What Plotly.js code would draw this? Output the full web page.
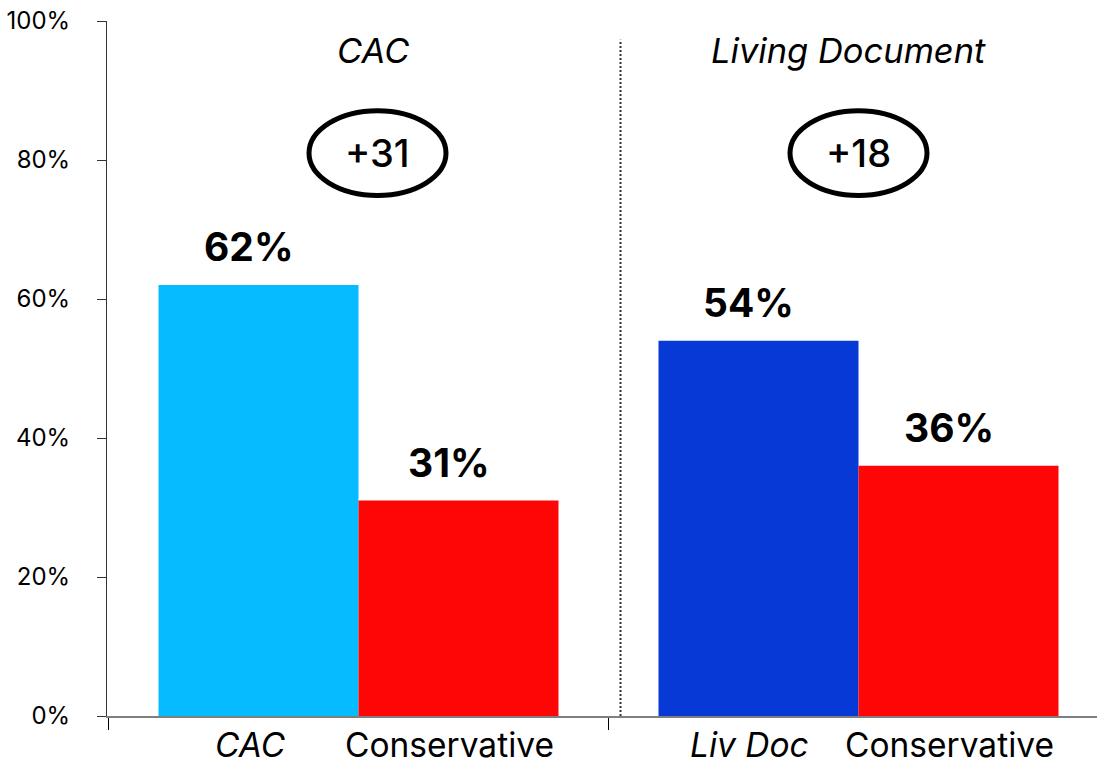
<!DOCTYPE html>
<html>
<head>
<meta charset="utf-8">
<script src="https://cdn.plot.ly/plotly-3.0.1.min.js"></script>
<style>html,body{margin:0;padding:0;background:#fff;}#chart{width:1097px;height:768px;}</style>
</head>
<body>
<div id="chart"></div>
<script>
// ---- data ----
const groupTitles = ['CAC', 'Living Document'];
const groupLabels = ['CAC', 'Liv Doc'];
const comparisonLabel = 'Conservative';
const progressiveValues = [62, 54];
const conservativeValues = [31, 36];
const progressiveColors = ['#06BBFF', '#0639D6'];
const conservativeColor = '#FF0606';
const yTicks = [0, 20, 40, 60, 80, 100];
const yTickText = ['0%', '20%', '40%', '60%', '80%', '100%'];

const FONT = 'Inter, "Noto Sans", Arial, sans-serif';
const groupX = groupTitles.map((_, i) => i);
const half = 0.2; // bar offset within group (bargap 0.2, two bars)

const traces = [
  {type: 'bar', x: groupX, y: progressiveValues, marker: {color: progressiveColors, line: {width: 0}},
   hoverinfo: 'skip', showlegend: false},
  {type: 'bar', x: groupX, y: conservativeValues, marker: {color: conservativeColor, line: {width: 0}},
   hoverinfo: 'skip', showlegend: false}
];

const annotations = [];
const shapes = [];
const titleShift = [14, -10];
const ovalShift = [0.038, 1.0];
groupX.forEach((g, i) => {
  const pairs = [[g - half, progressiveValues[i], groupLabels[i], 'italic'],
                 [g + half, conservativeValues[i], comparisonLabel, 'normal']];
  pairs.forEach(([x, v, lab, st]) => {
    annotations.push({x: x, y: v, xref: 'x', yref: 'y', text: v + '%', showarrow: false,
      yanchor: 'bottom', xshift: -10, yshift: 13,
      font: {family: FONT, size: 39, color: '#000', weight: 700}});
    annotations.push({x: x, y: 0, xref: 'x', yref: 'y', text: lab, showarrow: false,
      yanchor: 'top', xshift: -9, yshift: -7,
      font: {family: FONT, size: 33.5, color: '#000', style: st}});
  });
  annotations.push({x: g, y: 95.8, xref: 'x', yref: 'y', text: groupTitles[i], showarrow: false,
    yanchor: 'middle', xshift: titleShift[i],
    font: {family: FONT, size: 34.5, color: '#000', style: 'italic'}});
  const diff = progressiveValues[i] - conservativeValues[i];
  const cx = ovalShift[i];
  annotations.push({x: cx, y: 81, xref: 'x', yref: 'y', text: '+' + diff, showarrow: false,
    yanchor: 'middle', font: {family: FONT, size: 38, color: '#000', weight: 500}});
  shapes.push({type: 'circle', xref: 'x', yref: 'y', x0: cx - 0.137, x1: cx + 0.137, y0: 74.9, y1: 87.1,
    line: {color: '#000', width: 5}, fillcolor: 'rgba(0,0,0,0)'});
});
shapes.push({type: 'line', xref: 'x', yref: 'y', x0: 0.524, x1: 0.524, y0: 0, y1: 97.3,
  line: {color: '#333', width: 2, dash: '2px,2px'}});

const layout = {
  width: 1097, height: 768,
  margin: {l: 107, r: 0, t: 21, b: 52, pad: 0},
  paper_bgcolor: '#fff', plot_bgcolor: '#fff',
  barmode: 'group', bargap: 0.2, bargroupgap: 0,
  font: {family: FONT, color: '#000'},
  xaxis: {type: 'linear', range: [-0.503, 1.477], tickvals: [-0.5, 0.5], showticklabels: false,
    ticks: 'outside', ticklen: 12, tickwidth: 1, tickcolor: '#000',
    showline: true, linecolor: 'rgba(0,0,0,0.5)', linewidth: 2, showgrid: false, zeroline: false,
    fixedrange: true},
  yaxis: {range: [0, 100], tickmode: 'array', tickvals: yTicks, ticktext: yTickText, ticks: 'outside', ticklen: 9,
    tickwidth: 1, tickcolor: '#333', showline: true, linecolor: '#333', linewidth: 1,
    showgrid: false, zeroline: false, ticklabelstandoff: 22,
    tickfont: {family: FONT, size: 24, color: '#000'}, fixedrange: true},
  annotations: annotations,
  shapes: shapes
};

Plotly.newPlot('chart', traces, layout, {displayModeBar: false, staticPlot: true});
</script>
</body>
</html>
